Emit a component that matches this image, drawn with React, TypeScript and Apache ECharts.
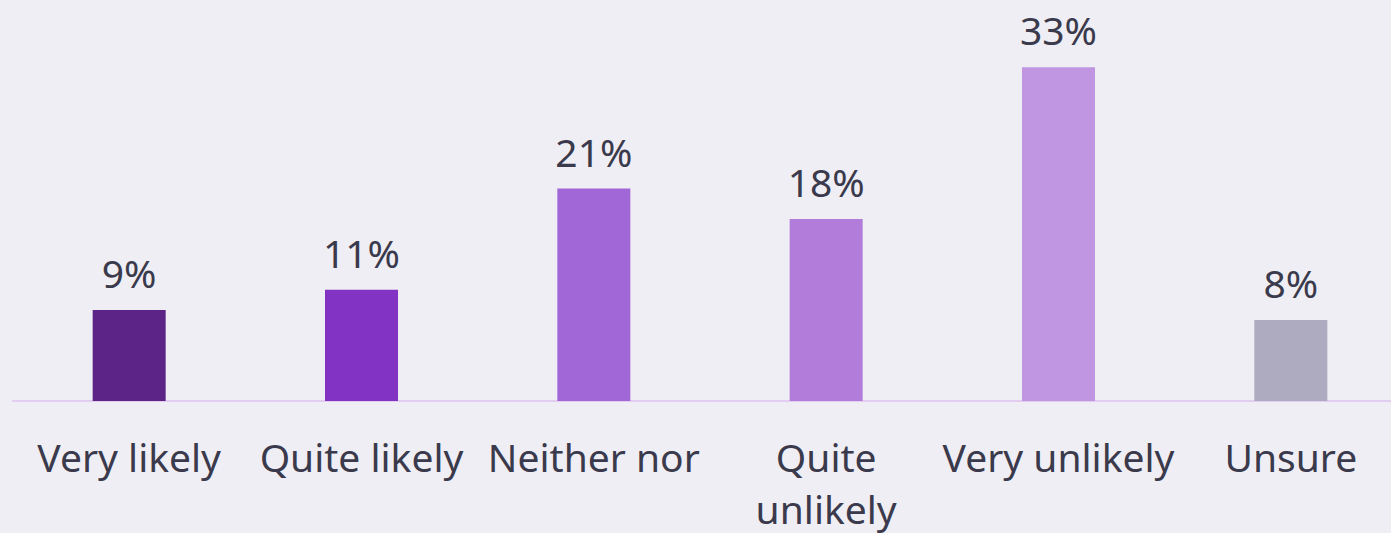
import React, { useEffect, useRef } from "react";
import * as echarts from "echarts";

const categories = ["Very likely", "Quite likely", "Neither nor", "Quite\nunlikely", "Very unlikely", "Unsure"];
const values = [9, 11, 21, 18, 33, 8];
const barColors = ["#5b2486", "#8233c3", "#a267d7", "#b27cdb", "#c096e3", "#aeaac0"];

export default function App() {
  const ref = useRef<HTMLDivElement>(null);
  useEffect(() => {
    const chart = echarts.init(ref.current!, undefined, { renderer: "svg" });
    chart.setOption({
      animation: false,
      backgroundColor: "#efeef4",
      textStyle: { fontFamily: "Noto Sans" },
      grid: { left: 13, width: 1394, top: 47, bottom: 132, containLabel: false, outerBoundsMode: "none" },
      xAxis: {
        type: "category",
        data: categories,
        axisLine: { show: true, lineStyle: { color: "#e2cdf1", width: 2 } },
        axisTick: { show: false },
        axisLabel: {
          color: "#3a3a4c",
          fontSize: 39,
          fontFamily: "Noto Sans",
          margin: 29,
          lineHeight: 52,
          interval: 0,
        },
      },
      yAxis: {
        type: "value",
        min: 0,
        max: 35,
        show: false,
        splitLine: { show: false },
      },
      series: [
        {
          type: "bar",
          data: values.map((v, i) => ({ value: v, itemStyle: { color: barColors[i] } })),
          barWidth: 73,
          label: {
            show: true,
            position: "top",
            distance: 18,
            formatter: "{c}%",
            color: "#3a3a4c",
            fontSize: 39,
            fontFamily: "Noto Sans",
          },
        },
      ],
    });
    return () => chart.dispose();
  }, []);
  return <div ref={ref} style={{ width: 1391, height: 533, position: "fixed", left: 0, top: 0 }} />;
}
